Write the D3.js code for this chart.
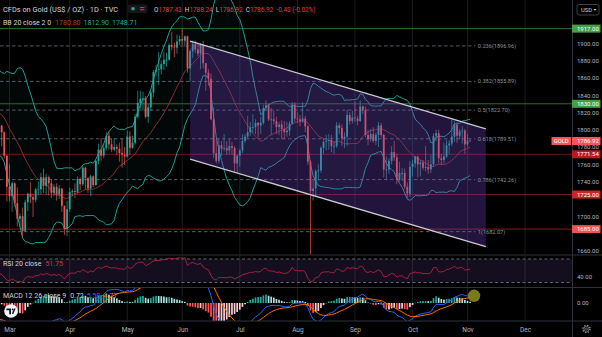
<!DOCTYPE html>
<html>
<head>
<meta charset="utf-8">
<script src="https://cdn.jsdelivr.net/npm/d3@7"></script>
<style>
  html, body { margin: 0; padding: 0; background: #000; }
  svg { display: block; font-family: Roboto, "Liberation Sans", sans-serif; }
</style>
</head>
<body>
<svg id="chart" width="602" height="337"></svg>
<script>
// ---------------- data ----------------
// first bar of the OHLC series (weekdays only, TVC gold trades every weekday)
const firstDate = "2021-02-23";

// closes before the first drawn bar, used only to warm up the indicators (Dec 1 2020 .. Feb 22 2021)
const priorCloses = [
  1815,1831,1841,1839,1863,1871,1839,1837,1840,1828,1855,1863,1886,1881,1873,1862,1871,1876,1876,1877,1878,1893,1895,
  1895,1944,1950,1918,1913,1850,1844,1856,1845,1846,1828,1840,1840,1871,1870,1856,1856,1850,1843,1844,1848,
  1861,1834,1834,1793,1814,1832,1838,1843,1825,1824,1819,1795,1775,1775,1784,1808
];

// daily bars: [open, high, low, close]
const febBars = [
  [1809,1816,1782,1805],[1805,1805,1781,1797],[1797,1798,1767,1770],[1770,1771,1717,1734]
];
const marBars = [
  [1734,1760,1717,1723],[1723,1740,1705,1738],[1738,1739,1711,1715],[1715,1733,1688,1697],[1697,1703,1687,1700],
  [1700,1710,1676,1683],[1683,1719,1682,1716],[1716,1727,1706,1726],[1726,1739,1715,1722],[1722,1726,1699,1719],
  [1719,1733,1716,1731],[1731,1740,1724,1731],[1731,1750,1725,1745],[1745,1755,1727,1735],[1735,1749,1725,1745],
  [1745,1747,1724,1738],[1738,1743,1721,1727],[1727,1737,1723,1734],[1734,1738,1718,1725],[1725,1736,1720,1732],
  [1732,1732,1705,1712],[1712,1712,1678,1685],[1685,1718,1677,1708]
];
const aprBars = [
  [1708,1733,1705,1728],[1728,1731,1723,1729],[1729,1738,1721,1728],[1728,1746,1726,1743],[1743,1745,1730,1737],
  [1737,1758,1735,1756],[1756,1757,1731,1744],[1744,1745,1727,1732],[1732,1748,1723,1746],[1746,1747,1733,1736],
  [1736,1765,1735,1764],[1764,1784,1760,1777],[1777,1790,1764,1770],[1770,1784,1767,1779],[1779,1797,1776,1793],
  [1793,1798,1777,1783],[1783,1790,1774,1777],[1777,1790,1775,1780],[1780,1783,1771,1778],[1778,1785,1763,1773],
  [1773,1790,1756,1771],[1771,1780,1759,1769]
];
const mayBars = [
  [1769,1799,1768,1792],[1792,1798,1771,1779],[1779,1793,1778,1785],[1785,1818,1783,1815],[1815,1845,1813,1831],
  [1831,1845,1824,1836],[1836,1844,1822,1836],[1836,1839,1813,1815],[1815,1830,1808,1826],[1826,1845,1822,1843],
  [1843,1869,1838,1867],[1867,1875,1862,1869],[1869,1890,1852,1870],[1870,1880,1864,1876],[1876,1890,1869,1881],
  [1881,1889,1873,1881],[1881,1900,1880,1898],[1898,1913,1892,1896],[1896,1901,1884,1895],[1895,1910,1888,1902],
  [1902,1909,1898,1905]
];
const junBars = [
  [1905,1917,1898,1903],[1903,1909,1896,1908],[1908,1909,1866,1871],[1871,1894,1856,1891],[1891,1903,1883,1899],
  [1899,1903,1889,1893],[1893,1900,1885,1888],[1888,1900,1870,1898],[1898,1903,1871,1877],[1877,1877,1845,1866],
  [1866,1870,1851,1859],[1859,1865,1811,1812],[1812,1826,1767,1773],[1773,1790,1761,1764],[1764,1790,1761,1782],
  [1782,1787,1770,1778],[1778,1795,1775,1779],[1779,1787,1771,1776],[1776,1789,1771,1781],[1781,1786,1771,1779],
  [1779,1781,1751,1761],[1761,1771,1750,1770]
];
const julBars = [
  [1770,1778,1757,1776],[1776,1795,1773,1787],[1787,1795,1785,1792],[1792,1816,1790,1797],[1797,1809,1793,1803],
  [1803,1818,1796,1803],[1803,1812,1795,1808],[1808,1809,1791,1805],[1805,1815,1795,1808],[1808,1829,1806,1825],
  [1825,1834,1822,1828],[1828,1830,1810,1812],[1812,1825,1794,1812],[1812,1822,1806,1810],[1810,1815,1795,1803],
  [1803,1809,1794,1806],[1806,1811,1789,1801],[1801,1810,1789,1797],[1797,1809,1792,1799],[1799,1810,1793,1807],
  [1807,1832,1806,1829],[1829,1832,1809,1813]
];
const augBars = [
  [1813,1820,1808,1812],[1812,1817,1804,1810],[1810,1832,1808,1813],[1813,1816,1797,1804],[1804,1805,1759,1763],
  [1763,1765,1650,1729],[1729,1742,1718,1732],[1732,1754,1722,1752],[1752,1760,1741,1753],[1753,1781,1750,1779],
  [1779,1790,1772,1786],[1786,1794,1776,1787],[1787,1795,1777,1788],[1788,1794,1774,1781],[1781,1786,1772,1781],
  [1781,1809,1779,1805],[1805,1808,1795,1802],[1802,1806,1781,1790],[1790,1797,1779,1792],[1792,1823,1781,1817],
  [1817,1820,1806,1810],[1810,1822,1807,1814]
];
const sepBars = [
  [1814,1833,1809,1813],[1813,1816,1805,1810],[1810,1834,1809,1827],[1827,1828,1818,1823],[1823,1827,1791,1794],
  [1794,1800,1782,1789],[1789,1801,1786,1795],[1795,1803,1785,1787],[1787,1797,1782,1794],[1794,1809,1780,1805],
  [1805,1808,1791,1794],[1794,1795,1745,1754],[1754,1769,1742,1754],[1754,1767,1749,1764],[1764,1781,1760,1774],
  [1774,1787,1764,1768],[1768,1772,1737,1742],[1742,1763,1740,1750],[1750,1756,1741,1750],[1750,1755,1731,1734],
  [1734,1739,1721,1726],[1726,1764,1722,1757]
];
const octBars = [
  [1757,1765,1746,1761],[1761,1770,1756,1769],[1769,1770,1745,1760],[1760,1765,1746,1762],[1762,1765,1753,1756],
  [1756,1781,1752,1757],[1757,1765,1749,1754],[1754,1771,1750,1760],[1760,1796,1757,1793],[1793,1800,1787,1796],
  [1796,1800,1761,1767],[1767,1772,1759,1765],[1765,1785,1761,1769],[1769,1788,1767,1782],[1782,1788,1772,1784],
  [1784,1814,1781,1792],[1792,1810,1786,1806],[1806,1808,1785,1793],[1793,1801,1789,1798],[1798,1804,1784,1799],
  [1799,1801,1772,1783]
];
const novBars = [
  [1783,1795,1780,1787.43],[1787.43,1788.24,1786.92,1786.92]
];

const monthLabels = ["Mar","Apr","May","Jun","Jul","Aug","Sep","Oct","Nov","Dec"];
const priceTicks = [1660,1700,1740,1760,1780,1800,1820,1840,1860,1880,1900];
const rsiTicks = [40];
const macdTicks = [0];

// horizontal levels drawn on the price pane
const levelPrices = [1917, 1830, 1771.54, 1725, 1685];

// Fibonacci retracement levels
const fibRatios = [0.236, 0.382, 0.5, 0.618, 0.786, 1];
const fibPrices = [1896.96, 1855.89, 1822.70, 1789.51, 1742.26, 1682.07];
const fibEndDate = "2021-11-04";

// descending parallel channel: two anchors of the upper line, and its price width
const channelDates = ["2021-06-04", "2021-11-10"];
const channelTopPrices = [1902.5, 1801.1];
const channelWidth = 136.5;

// header readouts
const symbolTitle = "CFDs on Gold (US$ / OZ) · 1D · TVC";
const ohlcText = [["O","1787.43"],["H","1788.24"],["L","1786.92"],["C","1786.92"]];
const changeText = "-0.43 (-0.02%)";
const bbText = ["BB 20 close 2 0", "1780.80", "1812.90", "1748.71"];
const rsiText = ["RSI 20 close", "51.75"];
const macdText = ["MACD 12 26 close 9", "0.72", "5.50", "4.77"];

// ---------------- styles ----------------
const C = {
  up: "#26a69a", down: "#ef5350",
  text: "#d1d4dc", axisText: "#b2b5be",
  grid: "#1b1c20", sep: "#2f323c",
  bbBand: "#1f9c8f", bbBasis: "#9c2f2f", bbFill: "rgba(38,166,154,0.05)",
  fib: "#6f727c", fibText: "#8d909a",
  channelFill: "rgba(112,66,200,0.3)", channelLine: "#c9c9d1",
  rsi: "#b5233f", rsiFill: "rgba(126,87,194,0.16)", rsiBand: "#787b86",
  macd: "#2962ff", signal: "#ff6d00",
  histUp: "#26a69a", histUpFade: "#b2dfdb", histDn: "#ff5252", histDnFade: "#ffcdd2",
  hlRed: "#f23645"
};
const levelLine = ["#2e6b30", "#2e6b30", "#6b1a1a", "#6b1a1a", "#7e1c1c"];
const levelBadge = ["#43a047", "#43a047", "#b71c1c", "#c62828", "#ef5350"];

// ---------------- layout ----------------
const plotW = 572;
const paneP = [0, 254.5], paneR = [255.5, 287], paneM = [288, 321], axisY = 321;

// ---------------- calendar ----------------
const parse = d3.utcParse("%Y-%m-%d");
const bars = [].concat(febBars, marBars, aprBars, mayBars, junBars, julBars, augBars, sepBars, octBars, novBars);
const days = d3.utcDays(parse(firstDate), parse("2022-01-01")).filter(d => d.getUTCDay() % 6 !== 0);
const origin = days.findIndex(d => d.getUTCMonth() === 2 && d.getUTCDate() === 1);
const idxOf = s => days.findIndex(d => +d === +parse(s)) - origin;
const barIdx = i => i - origin;
const monthIdx = d3.range(2, 12).map(m => days.findIndex(d => d.getUTCMonth() === m) - origin);

// ---------------- scales ----------------
const x = d3.scaleLinear().domain([-3.63, 214.93]).range([0, plotW]);
const y = d3.scaleLinear().domain([1660, 1900]).range([250.7, 43.3]);
const yR = d3.scaleLinear().domain([30, 70]).range([282.5, 259]);
const yM = d3.scaleLinear().domain([-15, 15]).range([321, 285]);

// ---------------- indicators ----------------
const allC = priorCloses.concat(bars.map(b => b[3]));
const off = priorCloses.length;
function sma(src, n) {
  return src.map((v, i) => i < n - 1 ? null : d3.mean(src.slice(i - n + 1, i + 1)));
}
function stdev(src, n) {
  return src.map((v, i) => {
    if (i < n - 1) return null;
    const s = src.slice(i - n + 1, i + 1), m = d3.mean(s);
    return Math.sqrt(d3.mean(s.map(q => (q - m) ** 2)));
  });
}
function ema(src, n) {
  const a = 2 / (n + 1), out = [];
  const start = src.findIndex(v => v != null);
  let prev = null;
  for (let i = 0; i < src.length; i++) {
    if (start < 0 || i < start + n - 1) { out.push(null); continue; }
    prev = prev === null ? d3.mean(src.slice(i - n + 1, i + 1)) : a * src[i] + (1 - a) * prev;
    out.push(prev);
  }
  return out;
}
function rma(src, n) {
  const out = []; let prev = null;
  for (let i = 0; i < src.length; i++) {
    if (i < n) { out.push(null); continue; }
    prev = prev === null ? d3.mean(src.slice(i - n + 1, i + 1)) : (prev * (n - 1) + src[i]) / n;
    out.push(prev);
  }
  return out;
}
const basis = sma(allC, 20), dev = stdev(allC, 20);
const upper = basis.map((b, i) => b == null ? null : b + 2 * dev[i]);
const lower = basis.map((b, i) => b == null ? null : b - 2 * dev[i]);
const chg = allC.map((v, i) => i === 0 ? 0 : v - allC[i - 1]);
const avgUp = rma(chg.map(c => Math.max(c, 0)), 20);
const avgDn = rma(chg.map(c => Math.max(-c, 0)), 20);
const rsi = avgUp.map((u, i) => u == null ? null : (avgDn[i] === 0 ? 100 : 100 - 100 / (1 + u / avgDn[i])));
const e12 = ema(allC, 12), e26 = ema(allC, 26);
const macd = e12.map((v, i) => v == null || e26[i] == null ? null : v - e26[i]);
const signal = ema(macd, 9);
const hist = macd.map((v, i) => v == null || signal[i] == null ? null : v - signal[i]);

const series = bars.map((b, i) => ({
  i: barIdx(i), o: b[0], h: b[1], l: b[2], c: b[3],
  up: upper[off + i], mid: basis[off + i], lo: lower[off + i],
  rsi: rsi[off + i], macd: macd[off + i], sig: signal[off + i],
  hist: hist[off + i], prevHist: hist[off + i - 1]
}));

// ---------------- drawing ----------------
const svg = d3.select("#chart");
svg.append("rect").attr("width", 602).attr("height", 337).attr("fill", "#000");
const defs = svg.append("defs");
[["clipP", paneP], ["clipR", paneR], ["clipM", paneM]].forEach(([id, p]) => {
  defs.append("clipPath").attr("id", id).append("rect")
    .attr("x", 0).attr("y", p[0]).attr("width", plotW).attr("height", p[1] - p[0]);
});

// month grid
const grid = svg.append("g");
monthIdx.forEach(m => {
  [paneP, paneR, paneM].forEach(p => {
    grid.append("line").attr("x1", x(m)).attr("x2", x(m)).attr("y1", p[0]).attr("y2", p[1])
      .attr("stroke", C.grid).attr("stroke-width", 1);
  });
});

// ---- price pane ----
const gp = svg.append("g").attr("clip-path", "url(#clipP)");

// Bollinger band background
gp.append("path").datum(series.filter(d => d.up != null))
  .attr("fill", C.bbFill)
  .attr("d", d3.area().x(d => x(d.i)).y0(d => y(d.lo)).y1(d => y(d.up)));

// horizontal levels
levelPrices.forEach((p, k) => {
  gp.append("line").attr("x1", 0).attr("x2", plotW).attr("y1", y(p)).attr("y2", y(p))
    .attr("stroke", levelLine[k]).attr("stroke-width", 1);
});

// Fibonacci dashed levels
const fibEnd = x(idxOf(fibEndDate));
fibPrices.forEach(p => {
  gp.append("line").attr("x1", 0).attr("x2", fibEnd).attr("y1", y(p)).attr("y2", y(p))
    .attr("stroke", C.fib).attr("stroke-width", 0.8).attr("stroke-dasharray", "3.5,2.5");
});

// Bollinger lines
const lineOf = key => d3.line().defined(d => d[key] != null).x(d => x(d.i)).y(d => y(d[key]));
gp.append("path").datum(series).attr("fill", "none").attr("stroke", C.bbBand).attr("stroke-width", 1).attr("d", lineOf("up"));
gp.append("path").datum(series).attr("fill", "none").attr("stroke", C.bbBand).attr("stroke-width", 1).attr("d", lineOf("lo"));
gp.append("path").datum(series).attr("fill", "none").attr("stroke", C.bbBasis).attr("stroke-width", 0.9).attr("d", lineOf("mid"));

// candles
const gc = gp.append("g");
series.forEach(d => {
  const col = d.c >= d.o ? C.up : C.down;
  const cx = x(d.i);
  gc.append("line").attr("x1", cx).attr("x2", cx).attr("y1", y(d.h)).attr("y2", y(d.l))
    .attr("stroke", col).attr("stroke-width", 0.7);
  const top = y(Math.max(d.o, d.c)), bot = y(Math.min(d.o, d.c));
  gc.append("rect").attr("x", cx - 0.9).attr("width", 1.8)
    .attr("y", top).attr("height", Math.max(bot - top, 0.8)).attr("fill", col);
});

// parallel channel
const cA = idxOf(channelDates[0]), cB = idxOf(channelDates[1]);
const chTop = [[x(cA), y(channelTopPrices[0])], [x(cB), y(channelTopPrices[1])]];
const chBot = [[x(cA), y(channelTopPrices[0] - channelWidth)], [x(cB), y(channelTopPrices[1] - channelWidth)]];
gp.append("path").attr("fill", C.channelFill)
  .attr("d", d3.line()([chTop[0], chTop[1], chBot[1], chBot[0]]) + "Z");
[chTop, chBot].forEach(seg => {
  gp.append("path").attr("fill", "none").attr("stroke", C.channelLine).attr("stroke-width", 1.3)
    .attr("d", d3.line()(seg));
});

// Fibonacci labels
fibPrices.forEach((p, k) => {
  svg.append("text").attr("x", fibEnd + 2.5).attr("y", y(p)).attr("dy", "0.35em")
    .attr("font-size", 5.6).attr("fill", C.fibText)
    .text(`${fibRatios[k]}(${p.toFixed(2)})`);
});

// ---- RSI pane ----
const gr = svg.append("g").attr("clip-path", "url(#clipR)");
gr.append("rect").attr("x", 0).attr("width", plotW).attr("y", yR(70)).attr("height", yR(30) - yR(70)).attr("fill", C.rsiFill);
[70, 30].forEach(v => {
  gr.append("line").attr("x1", 0).attr("x2", plotW).attr("y1", yR(v)).attr("y2", yR(v))
    .attr("stroke", C.rsiBand).attr("stroke-width", 0.8).attr("stroke-dasharray", "3,2.5");
});
gr.append("path").datum(series).attr("fill", "none").attr("stroke", C.rsi).attr("stroke-width", 0.9)
  .attr("d", d3.line().defined(d => d.rsi != null).x(d => x(d.i)).y(d => yR(d.rsi)));

// ---- MACD pane ----
const gm = svg.append("g").attr("clip-path", "url(#clipM)");
series.filter(d => d.hist != null).forEach(d => {
  const h = d.hist, ph = d.prevHist == null ? h : d.prevHist;
  const col = h >= 0 ? (h > ph ? C.histUp : C.histUpFade) : (h > ph ? C.histDnFade : C.histDn);
  const t = yM(Math.max(h, 0)), b = yM(Math.min(h, 0));
  gm.append("rect").attr("x", x(d.i) - 0.85).attr("width", 1.7).attr("y", t)
    .attr("height", Math.max(b - t, 0.5)).attr("fill", col);
});
gm.append("path").datum(series).attr("fill", "none").attr("stroke", C.macd).attr("stroke-width", 1)
  .attr("d", d3.line().defined(d => d.macd != null).x(d => x(d.i)).y(d => yM(d.macd)));
gm.append("path").datum(series).attr("fill", "none").attr("stroke", C.signal).attr("stroke-width", 1)
  .attr("d", d3.line().defined(d => d.sig != null).x(d => x(d.i)).y(d => yM(d.sig)));
// highlight marker on the latest MACD reading
gm.append("circle").attr("cx", x(barIdx(bars.length - 1) + 1.5)).attr("cy", yM(6)).attr("r", 6.2)
  .attr("fill", "#87871f").attr("opacity", 0.9);

// TradingView badge
const tv = svg.append("g").attr("transform", "translate(11,311)");
tv.append("circle").attr("r", 6.8).attr("fill", "#f0f3fa");
tv.append("path").attr("fill", "#131722").attr("d", "M-4.6,-2.4 H0 V3.2 H-1.8 V-0.8 H-4.6 Z");
tv.append("circle").attr("cx", 1.6).attr("cy", -1.6).attr("r", 0.9).attr("fill", "#131722");
tv.append("path").attr("fill", "#131722").attr("d", "M2.2,3.2 L4.6,-2.4 H3 L0.9,2.6 Z");

// ---- separators ----
[paneP[1] + 0.5, paneR[1] + 0.5, axisY].forEach(v => {
  svg.append("line").attr("x1", 0).attr("x2", 602).attr("y1", v).attr("y2", v).attr("stroke", C.sep).attr("stroke-width", 1);
});
svg.append("line").attr("x1", plotW + 0.5).attr("x2", plotW + 0.5).attr("y1", 0).attr("y2", 337).attr("stroke", C.sep);

// ---- axes ----
function styleAxis(g) {
  g.select(".domain").remove();
  g.selectAll("text").attr("fill", C.axisText).attr("font-size", 6).attr("font-family", "Roboto, 'Liberation Sans', sans-serif");
}
svg.append("g").attr("transform", `translate(${plotW},0)`)
  .call(d3.axisRight(y).tickValues(priceTicks).tickFormat(d3.format(".2f")).tickSize(0).tickPadding(5)).call(styleAxis);
svg.append("g").attr("transform", `translate(${plotW},0)`)
  .call(d3.axisRight(yR).tickValues(rsiTicks).tickFormat(d3.format(".2f")).tickSize(0).tickPadding(5)).call(styleAxis);
svg.append("g").attr("transform", `translate(${plotW},0)`)
  .call(d3.axisRight(yM).tickValues(macdTicks).tickFormat(d3.format(".2f")).tickSize(0).tickPadding(5)).call(styleAxis);
svg.append("g").attr("transform", `translate(0,${axisY})`)
  .call(d3.axisBottom(x).tickValues(monthIdx).tickFormat((d, i) => monthLabels[i]).tickSize(0).tickPadding(6))
  .call(g => { styleAxis(g); g.selectAll("text").attr("font-size", 6.5); });

// level badges on the price scale
levelPrices.forEach((p, k) => {
  svg.append("rect").attr("x", plotW).attr("y", y(p) - 4).attr("width", 28.5).attr("height", 8).attr("fill", levelBadge[k]);
  svg.append("text").attr("x", plotW + 5).attr("y", y(p)).attr("dy", "0.35em").attr("font-size", 6)
    .attr("fill", "#fff").text(p.toFixed(2));
});
// last price badge
const last = bars[bars.length - 1][3];
svg.append("rect").attr("x", 551.5).attr("y", y(last) - 4).attr("width", 19.5).attr("height", 8).attr("fill", "#f05858");
svg.append("text").attr("x", 561.2).attr("y", y(last)).attr("dy", "0.35em").attr("text-anchor", "middle")
  .attr("font-size", 5.8).attr("fill", "#fff").text("GOLD");
svg.append("rect").attr("x", plotW).attr("y", y(last) - 4).attr("width", 28.5).attr("height", 8).attr("fill", "#f7525f");
svg.append("text").attr("x", plotW + 5).attr("y", y(last)).attr("dy", "0.35em").attr("font-size", 6)
  .attr("fill", "#fff").text(last.toFixed(2));

// currency button
svg.append("rect").attr("x", 577).attr("y", 4.5).attr("width", 22).attr("height", 10.5).attr("rx", 2)
  .attr("fill", "#000").attr("stroke", "#4a4e59").attr("stroke-width", 0.8);
svg.append("text").attr("x", 586.5).attr("y", 10).attr("dy", "0.35em").attr("text-anchor", "middle")
  .attr("font-size", 5.8).attr("fill", C.text).text("USD");
svg.append("path").attr("d", "M593.5,9 L596.5,9 L595,10.8 Z").attr("fill", C.text);

// settings gear
const gear = svg.append("g").attr("transform", "translate(586.5,329)");
gear.append("circle").attr("r", 3.6).attr("fill", "none").attr("stroke", "#9598a1").attr("stroke-width", 1.3)
  .attr("stroke-dasharray", "1.4,1.43");
gear.append("circle").attr("r", 2.6).attr("fill", "none").attr("stroke", "#9598a1").attr("stroke-width", 0.7);
gear.append("circle").attr("r", 1).attr("fill", "none").attr("stroke", "#9598a1").attr("stroke-width", 0.6);

// ---- header legends ----
const hdr = svg.append("g").attr("font-size", 7.4);
hdr.append("text").attr("x", 3).attr("y", 12).attr("fill", C.text).text(symbolTitle);
hdr.append("rect").attr("x", 127.5).attr("y", 4.5).attr("width", 20).attr("height", 8.5).attr("rx", 2).attr("fill", "#15161a");
hdr.append("circle").attr("cx", 133).attr("cy", 8.7).attr("r", 1.8).attr("fill", "#22ab94");
hdr.append("line").attr("x1", 140).attr("x2", 144.5).attr("y1", 7.6).attr("y2", 7.6).attr("stroke", "#e0437b").attr("stroke-width", 0.9);
hdr.append("line").attr("x1", 140).attr("x2", 144.5).attr("y1", 9.8).attr("y2", 9.8).attr("stroke", "#e0437b").attr("stroke-width", 0.9);
const oh = hdr.append("text").attr("x", 154).attr("y", 12).attr("font-size", 6.4);
ohlcText.forEach(([k, v], j) => {
  oh.append("tspan").attr("fill", C.text).attr("dx", j ? 3.2 : 0).text(k);
  oh.append("tspan").attr("fill", C.hlRed).text(v);
});
oh.append("tspan").attr("fill", C.hlRed).attr("dx", 3.2).text(changeText);

const bb = hdr.append("text").attr("x", 3).attr("y", 25).attr("font-size", 7);
bb.append("tspan").attr("fill", C.text).text(bbText[0]);
bb.append("tspan").attr("fill", "#b23a3a").attr("dx", 4).text(bbText[1]);
bb.append("tspan").attr("fill", "#26a69a").attr("dx", 3).text(bbText[2]);
bb.append("tspan").attr("fill", "#26a69a").attr("dx", 3).text(bbText[3]);

const rt = svg.append("text").attr("x", 3).attr("y", 265.5).attr("font-size", 7);
rt.append("tspan").attr("fill", C.text).text(rsiText[0]);
rt.append("tspan").attr("fill", "#d8344a").attr("dx", 4).text(rsiText[1]);

const mt = svg.append("text").attr("x", 3).attr("y", 298).attr("font-size", 7);
mt.append("tspan").attr("fill", C.text).text(macdText[0]);
mt.append("tspan").attr("fill", "#b2dfdb").attr("dx", 4).text(macdText[1]);
mt.append("tspan").attr("fill", "#2f6bff").attr("dx", 3).text(macdText[2]);
mt.append("tspan").attr("fill", "#ff6d00").attr("dx", 3).text(macdText[3]);
</script>
</body>
</html>
